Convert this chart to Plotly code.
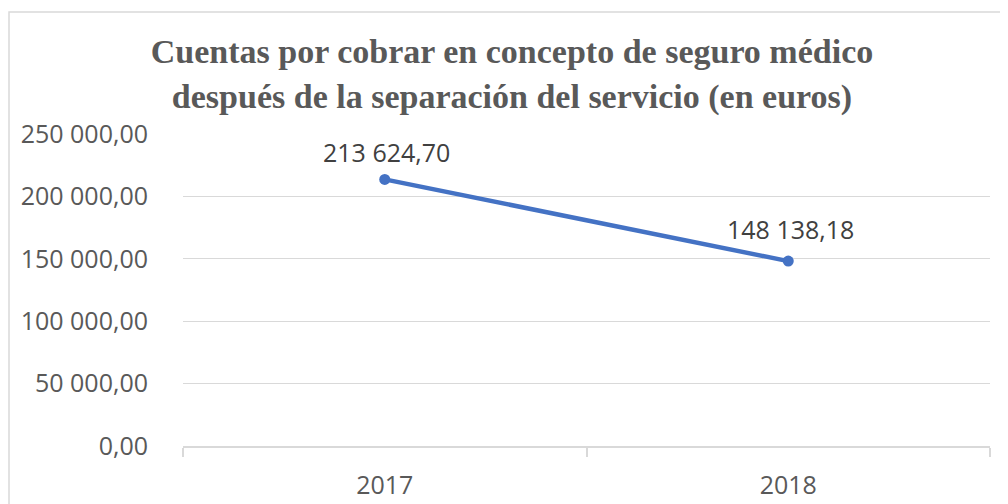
import plotly.graph_objects as go

years = ['2017', '2018']
amounts = [213624.70, 148138.18]
y_ticks = [0, 50000, 100000, 150000, 200000, 250000]


def euro_fmt(v):
    # 213624.7 -> "213 624,70"
    return f"{v:,.2f}".replace(",", " ").replace(".", ",")


fig = go.Figure()
fig.add_trace(go.Scatter(
    x=years, y=amounts, mode='lines+markers',
    line=dict(color='#4472C4', width=4.5),
    marker=dict(color='#4472C4', size=11),
    cliponaxis=False, showlegend=False,
))

# data labels sit above the points, as in Excel
# (category index for x, numeric-looking names get read as numbers)
for i, (v, dy) in enumerate(zip(amounts, [27, 32])):
    fig.add_annotation(x=i, y=v, text=euro_fmt(v), showarrow=False,
                       yshift=dy, xshift=2,
                       font=dict(family='Open Sans', size=25, color='#404040'))

fig.update_layout(
    width=1008, height=504,
    margin=dict(l=175, r=26, t=126, b=66),
    paper_bgcolor='white', plot_bgcolor='white',
    title=dict(
        text='Cuentas por cobrar en concepto de seguro médico<br>después de la separación del servicio (en euros)',
        x=0.5, xanchor='center', y=0.89, yanchor='top',
        font=dict(family='Liberation Serif', size=34, color='#595959', weight='bold'),
    ),
    font=dict(family='Open Sans', size=25, color='#595959'),
)

fig.update_xaxes(
    type='category', range=[-0.5, 1.5],
    tickson='boundaries', ticks='outside', ticklen=9, tickcolor='#d9d9d9', tickwidth=1.5,
    showline=True, linecolor='#d9d9d9', linewidth=1.5,
    showgrid=False, ticklabelstandoff=16,
)
fig.update_yaxes(
    range=[0, 250000], tickvals=y_ticks, ticktext=[euro_fmt(v) for v in y_ticks],
    showgrid=True, gridcolor='#d9d9d9', gridwidth=1.2,
    zeroline=False, showline=False, ticks='', ticklabelstandoff=34,
)

# chart border (partly cropped in the original)
fig.add_shape(type='rect', xref='paper', yref='paper',
              x0=-0.2156, x1=1.05, y0=-0.4, y1=1.391,
              line=dict(color='#d9d9d9', width=1.5), layer='below')

fig.write_html("out.html")
